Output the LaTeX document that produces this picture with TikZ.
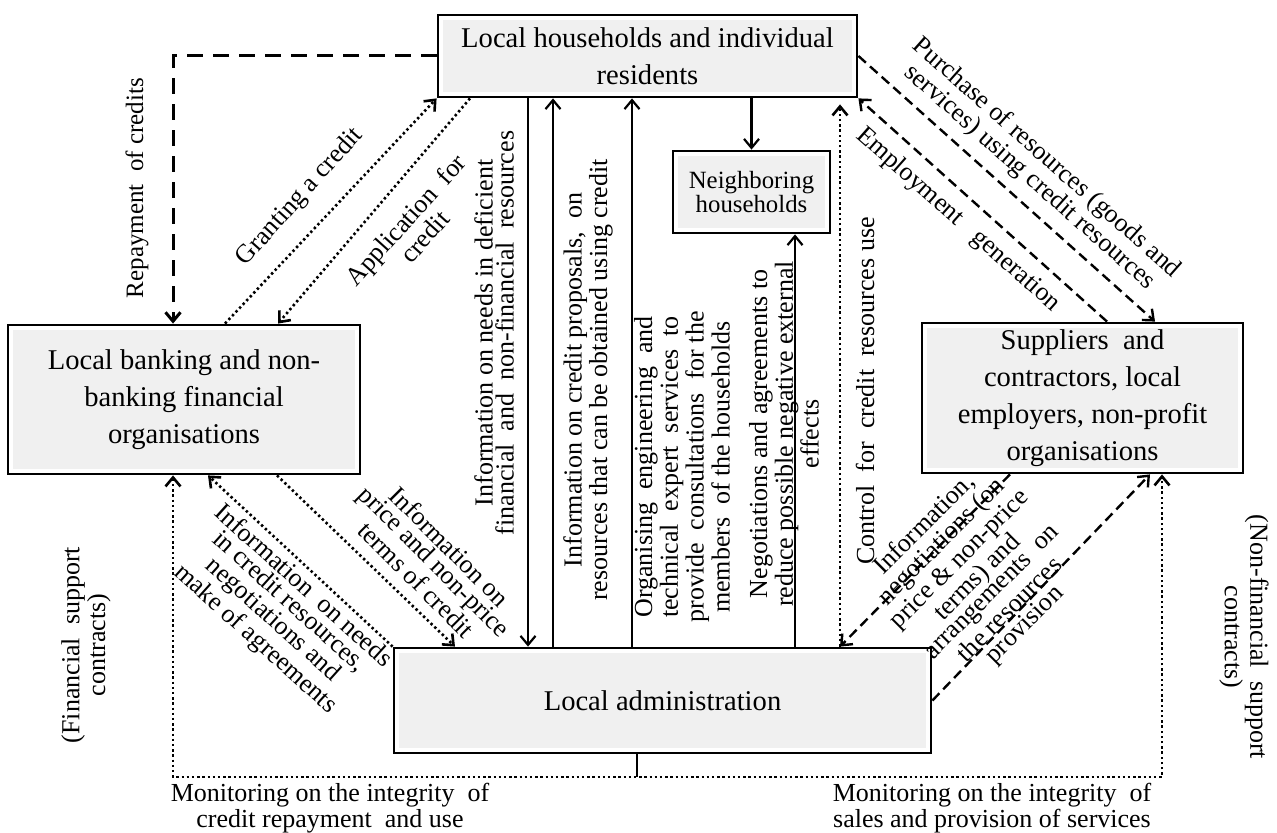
\documentclass[tikz,border=0pt]{standalone}
\usepackage{fontspec}
\setmainfont{Liberation Serif}
\usetikzlibrary{arrows.meta,calc}
\begin{document}
\begin{tikzpicture}[x=0.5pt,y=-0.5pt,
  box/.style={draw, line width=1.4pt, fill=white, align=center, inner sep=0pt,
    font=\fontsize{14.3}{18.5}\selectfont,
    path picture={\fill[gray!12] ([shift={(2.5pt,-2.5pt)}]path picture bounding box.north west) rectangle ([shift={(-2.5pt,2.5pt)}]path picture bounding box.south east);}},
  lab/.style={font=\fontsize{13}{10.5}\selectfont, align=center, inner sep=0pt},
  arr/.style={-{Straight Barb[length=4.5pt,width=7.5pt]}},
  sol/.style={line width=1.1pt},
  dot/.style={line width=1.3pt, dash pattern=on 1.2pt off 1.4pt},
  dsh/.style={line width=1.2pt, dash pattern=on 5pt off 2.8pt},
  rep/.style={line width=1.5pt, dash pattern=on 8pt off 5pt},
]
\useasboundingbox (0,0) rectangle (1277,833);

% boxes
\node[box, minimum width=209.5pt, minimum height=41pt] (top) at (647.5,56) {Local households and individual\\residents};
\node[box, font=\fontsize{12.4}{10.5}\selectfont, minimum width=78.5pt, minimum height=41pt] (neigh) at (751.5,192) {Neighboring\\households};
\node[box, minimum width=176pt, minimum height=74.5pt] (bank) at (184,399.5) {Local banking and non-\\banking financial\\organisations};
\node[box, minimum width=160.5pt, minimum height=75pt] (supp) at (1082.5,398) {Suppliers\ \ and\\contractors, local\\employers, non-profit\\organisations};
\node[box, minimum width=268.5pt, minimum height=52.5pt] (admin) at (662.5,700.5) {Local administration};

% coordinates
\coordinate (xR) at (173,0);
\coordinate (xG) at (225,0);
\coordinate (xAp) at (278,0);
\coordinate (xApT) at (470,0);
\coordinate (xA) at (528,0);
\coordinate (xB) at (553,0);
\coordinate (xC) at (632,0);
\coordinate (xD) at (795,0);
\coordinate (xE) at (840,0);
\coordinate (xPu) at (1155,0);
\coordinate (xEm) at (1107,0);
\coordinate (xPrB) at (277,0);
\coordinate (xPrA) at (455,0);
\coordinate (xNdB) at (208,0);
\coordinate (xNgS) at (1010,0);
\coordinate (xPvS) at (1150,0);
\coordinate (xM) at (637,0);
\coordinate (bl) at (173,777);
\coordinate (br) at (1162,777);

% connectors
\draw[rep,arr] (top.west) -| (bank.north -| xR);
\draw[dot,arr] (bank.north -| xG) -- (top.south west);
\draw[dot,arr] (top.south -| xApT) -- (bank.north -| xAp);
\draw[sol,arr] (top.south -| xA) -- (admin.north -| xA);
\draw[sol,arr] (admin.north -| xB) -- (top.south -| xB);
\draw[sol,arr] (admin.north -| xC) -- (top.south -| xC);
\draw[sol,arr] (admin.north -| xD) -- (neigh.south -| xD);
\draw[dot,arr,shorten >=3pt] (admin.north -| xE) -- (top.south -| xE);
\draw[sol,arr] (top.south -| neigh.north) -- (neigh.north);
\draw[dsh,arr] (top.east) -- (supp.north -| xPu);
\draw[dsh,arr] (supp.north -| xEm) -- (top.south east);
\draw[dot,arr] (bank.south -| xPrB) -- (admin.north -| xPrA);
\draw[dot,arr] (admin.north west) -- (bank.south -| xNdB);
\draw[dsh,arr] (supp.south -| xNgS) -- (admin.north -| xE);
\draw[dsh,arr] (admin.east) -- (supp.south -| xPvS);
\draw[dot,{Straight Barb[length=4.5pt,width=7.5pt]}-{Straight Barb[length=4.5pt,width=7.5pt]}] (bank.south -| bl) -- (bl) -- (br) -- (supp.south -| br);
\draw[sol] (admin.south -| xM) -- (bl -| xM);

% labels
\node[lab, font=\fontsize{12.5}{10.5}\selectfont, rotate=90] (lRep) at (137,188) {Repayment\ \ of credits};
\node[lab, rotate=48] (lGr) at (300,197) {Granting a credit};
\node[lab, rotate=48] (lAp) at (415,228) {Application\ \ for\\credit};
\node[lab, rotate=90] (la) at (494,333) {Information on needs in deficient\\financial\ \ and\ \ non-financial\ \ resources};
\node[lab, rotate=90] (lb) at (588,380) {Information on credit proposals,\ \ on\\resources that can be obtained using credit};
\node[lab, rotate=90] (lc) at (682,467) {Organising\ \ engineering\ \ and\\technical\ \ expert\ \ services\ \ to\\provide\ \ consultations\ \ for the\\members\ \ of the households};
\node[lab, rotate=90] (ld) at (784,434) {Negotiations and agreements to\\reduce possible negative external\\effects};
\node[lab, rotate=90] (lCtl) at (865,391) {Control\ \ for\ \ credit\ \ resources use};
\node[lab, rotate=-41.5] (lPur) at (1038,168) {Purchase of resources (goods and\\services) using credit resources};
\node[lab, rotate=-41.5] (lEmp) at (958,220) {Employment\ \ \ generation};
\node[lab, rotate=-45] (lPr) at (433,563) {Information on\\price and non-price\\terms of credit};
\node[lab, rotate=-42] (lNd) at (279,613) {Information\ \ on needs\\in credit resources,\\negotiations and\\make of agreements};
\node[lab, rotate=45, font=\fontsize{13}{10.3}\selectfont] (lNg) at (975,575) {Information,\\negotiations (on\\price \& non-price\\terms) and\\arrangements\ \ on\\the resources\\provision};
\node[lab, rotate=90] (lFin) at (86,645) {(Financial\ \ support\\contracts)};
\node[lab, rotate=-90] (lNon) at (1244,637) {(Non-financial\ \ support\\contracts)};
\node[lab] (lM1) at (330,808) {Monitoring on the integrity\ \ of\\credit repayment\ \ and use};
\node[lab] (lM2) at (992,808) {Monitoring on the integrity\ \ of\\sales and provision of services};
\end{tikzpicture}
\end{document}
